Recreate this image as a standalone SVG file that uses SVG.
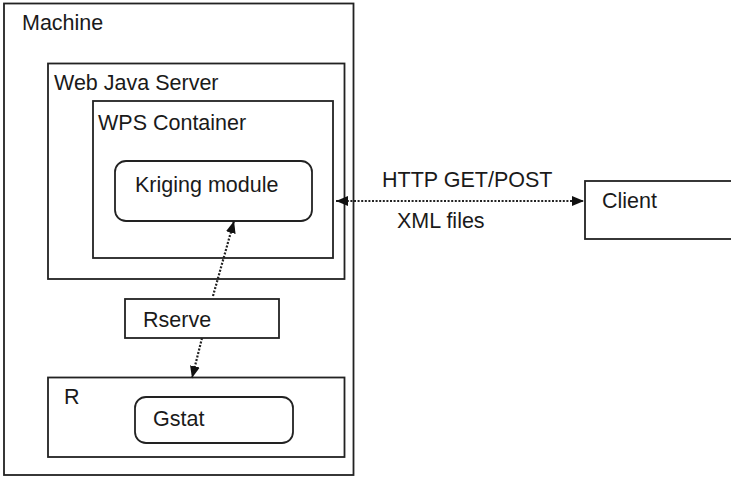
<svg xmlns="http://www.w3.org/2000/svg" width="731" height="477" viewBox="0 0 731 477">
  <style>
    .box { fill: none; stroke: #222; stroke-width: 1.8; }
    .lbl { font-family: "Liberation Sans", Arial, sans-serif; font-size: 21.5px; fill: #1a1a1a; }
    .link { fill: none; stroke: #222; stroke-width: 2.2; stroke-dasharray: 2 1.6; }
  </style>
  <defs>
    <marker id="head" viewBox="0 0 12 10" refX="12" refY="5" markerWidth="12" markerHeight="10" markerUnits="userSpaceOnUse" orient="auto-start-reverse">
      <path d="M0,0 L12,5 L0,10 Z" fill="#111"/>
    </marker>
  </defs>
  <rect width="731" height="477" fill="#fff"/>

  <g id="machine">
    <rect class="box" x="4" y="3.5" width="349.5" height="471.5"/>
    <text class="lbl" x="22" y="30">Machine</text>
  </g>
  <g id="web-java-server">
    <rect class="box" x="48" y="63.5" width="296.5" height="215.5"/>
    <text class="lbl" x="54" y="90">Web Java Server</text>
  </g>
  <g id="wps-container">
    <rect class="box" x="93" y="101" width="240" height="157"/>
    <text class="lbl" x="98" y="130">WPS Container</text>
  </g>
  <g id="kriging-module">
    <rect class="box" x="115" y="161" width="197" height="60" rx="11"/>
    <text class="lbl" x="135" y="192">Kriging module</text>
  </g>
  <g id="rserve">
    <rect class="box" x="125" y="299" width="154" height="39"/>
    <text class="lbl" x="143" y="327">Rserve</text>
  </g>
  <g id="r">
    <rect class="box" x="48" y="377.5" width="296.5" height="79.5"/>
    <text class="lbl" x="64" y="404">R</text>
  </g>
  <g id="gstat">
    <rect class="box" x="135" y="397" width="158" height="46" rx="11"/>
    <text class="lbl" x="153" y="426">Gstat</text>
  </g>
  <g id="client">
    <rect class="box" x="585" y="181" width="160" height="58"/>
    <text class="lbl" x="602" y="208">Client</text>
  </g>

  <g id="connectors">
    <line class="link" x1="336" y1="201" x2="584" y2="201" marker-start="url(#head)" marker-end="url(#head)"/>
    <line class="link" x1="213" y1="296" x2="234" y2="221" marker-end="url(#head)"/>
    <line class="link" x1="202" y1="338" x2="192" y2="378" marker-end="url(#head)"/>
    <text class="lbl" x="382" y="187">HTTP GET/POST</text>
    <text class="lbl" x="397" y="228">XML files</text>
  </g>
</svg>
